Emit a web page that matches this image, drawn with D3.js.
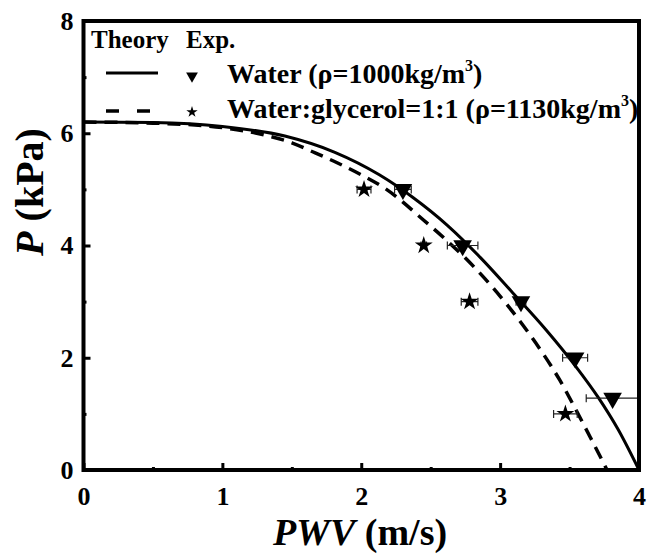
<!DOCTYPE html>
<html>
<head>
<meta charset="utf-8">
<script src="https://d3js.org/d3.v7.min.js"></script>
<style>
	body { margin: 0; background: #fff; }
</style>
</head>
<body>
<div id="chart"></div>
<script>
// Theory curves: PWV (m/s) vs pressure (kPa)
let waterTheoryV = [0, 0.5, 1.0, 1.45, 1.81, 2.13, 2.37, 2.62, 2.86, 3.09, 3.33, 3.54, 3.71, 3.85, 4.0];
let waterTheoryP = [6.2, 6.19, 6.12, 5.95, 5.66, 5.26, 4.86, 4.36, 3.78, 3.16, 2.5, 1.86, 1.28, 0.72, 0];

let glycTheoryV = [0, 0.5, 1.0, 1.3, 1.5, 1.65, 1.83, 2.0, 2.17, 2.45, 2.62, 2.78, 2.93, 3.17, 3.31, 3.43, 3.54, 3.65, 3.77];
let glycTheoryP = [6.2, 6.18, 6.1, 5.97, 5.83, 5.67, 5.47, 5.26, 5.02, 4.45, 4.08, 3.7, 3.3, 2.56, 2.07, 1.6, 1.1, 0.58, 0];

// Experimental points with horizontal error (m/s)
let waterExpV = [2.30, 2.73, 3.15, 3.54, 3.81];
let waterExpP = [5, 4, 3, 2, 1.28];
let waterExpErr = [0.06, 0.11, 0.035, 0.09, 0.19];

let glycExpV = [2.02, 2.45, 2.78, 3.47];
let glycExpP = [5, 4, 3, 1];
let glycExpErr = [0.05, 0.02, 0.06, 0.085];

// Axis ticks
let xTicks = [0, 1, 2, 3, 4];
let xMinorTicks = [0.5, 1.5, 2.5, 3.5];
let yTicks = [0, 2, 4, 6, 8];
let yMinorTicks = [1, 3, 5, 7];

let legendLabels = ['Water (\u03c1=1000kg/m', 'Water:glycerol=1:1 (\u03c1=1130kg/m'];

let width = 651;
let height = 556;
let plotLeft = 83.5, plotRight = 639, plotTop = 21, plotBottom = 470;
let serif = '"Liberation Serif", "Times New Roman", Tinos, serif';

let xScale = d3.scaleLinear().domain([0, 4]).range([plotLeft, plotRight]);
let yScale = d3.scaleLinear().domain([0, 8]).range([plotBottom, plotTop]);

let svg = d3.select('#chart')
		.append('svg')
		.attr('width', width)
		.attr('height', height)
		.style('font-family', serif)
		.style('font-weight', 'bold');

svg.append('clipPath').attr('id', 'plotClip')
		.append('rect')
		.attr('x', plotLeft).attr('y', plotTop)
		.attr('width', plotRight - plotLeft).attr('height', plotBottom - plotTop);

// Axes with inward ticks
function styleAxis(g) {
	g.attr('font-family', null).attr('font-size', null);
	g.select('.domain').remove();
	g.selectAll('.tick line').attr('stroke', '#000').attr('stroke-width', 3);
	g.selectAll('.tick text')
			.style('font-family', serif)
			.style('font-weight', 'bold')
			.style('font-size', '26px')
			.attr('fill', '#000');
}

svg.append('g')
		.attr('transform', 'translate(0,' + plotBottom + ')')
		.call(d3.axisBottom(xScale).tickValues(xTicks).tickFormat(d3.format('d'))
				.tickSizeInner(-7).tickSizeOuter(0).tickPadding(17))
		.call(styleAxis);

svg.append('g')
		.attr('transform', 'translate(0,' + plotBottom + ')')
		.call(d3.axisBottom(xScale).tickValues(xMinorTicks).tickFormat('')
				.tickSizeInner(-3).tickSizeOuter(0))
		.call(styleAxis);

svg.append('g')
		.attr('transform', 'translate(' + plotLeft + ',0)')
		.call(d3.axisLeft(yScale).tickValues(yTicks).tickFormat(d3.format('d'))
				.tickSizeInner(-7).tickSizeOuter(0).tickPadding(10))
		.call(styleAxis);

svg.append('g')
		.attr('transform', 'translate(' + plotLeft + ',0)')
		.call(d3.axisLeft(yScale).tickValues(yMinorTicks).tickFormat('')
				.tickSizeInner(-3).tickSizeOuter(0))
		.call(styleAxis);

// Theory curves
let line = d3.line()
		.x(d => xScale(d[0]))
		.y(d => yScale(d[1]))
		.curve(d3.curveMonotoneX);

let plot = svg.append('g').attr('clip-path', 'url(#plotClip)');

plot.append('path')
		.datum(d3.zip(waterTheoryV, waterTheoryP))
		.attr('d', line)
		.attr('fill', 'none')
		.attr('stroke', '#000')
		.attr('stroke-width', 3);

plot.append('path')
		.datum(d3.zip(glycTheoryV, glycTheoryP))
		.attr('d', line)
		.attr('fill', 'none')
		.attr('stroke', '#000')
		.attr('stroke-width', 3.5)
		.attr('stroke-dasharray', '13,8');

// Experimental points with error bars
function drawPoints(vs, ps, errs, symbolType, size, rotate) {
	let pts = d3.zip(vs, ps, errs);
	let g = plot.append('g');
	g.selectAll('.errbar')
			.data(pts).enter().append('path')
			.attr('d', d => {
				let x0 = xScale(d[0] - d[2]), x1 = xScale(d[0] + d[2]), y = yScale(d[1]);
				return 'M' + x0 + ',' + y + 'H' + x1 +
						'M' + x0 + ',' + (y - 4) + 'V' + (y + 4) +
						'M' + x1 + ',' + (y - 4) + 'V' + (y + 4);
			})
			.attr('fill', 'none')
			.attr('stroke', '#222')
			.attr('stroke-width', 1.2);
	g.selectAll('.pt')
			.data(pts).enter().append('path')
			.attr('d', d3.symbol().type(symbolType).size(size))
			.attr('transform', d => 'translate(' + xScale(d[0]) + ',' + yScale(d[1]) + ') rotate(' + rotate + ')')
			.attr('fill', '#000');
}

drawPoints(waterExpV, waterExpP, waterExpErr, d3.symbolTriangle, 150, 180);
drawPoints(glycExpV, glycExpP, glycExpErr, d3.symbolStar, 100, 0);

// Frame
svg.append('rect')
		.attr('x', plotLeft).attr('y', plotTop)
		.attr('width', plotRight - plotLeft).attr('height', plotBottom - plotTop)
		.attr('fill', 'none')
		.attr('stroke', '#000')
		.attr('stroke-width', 4);

// Legend
svg.append('text').attr('x', 91).attr('y', 48).style('font-size', '25px').text('Theory');
svg.append('text').attr('x', 186).attr('y', 48).style('font-size', '25px').text('Exp.');

let rowY = [73, 111];
let rowBase = [83, 118];
svg.append('line')
		.attr('x1', 106).attr('x2', 158).attr('y1', rowY[0]).attr('y2', rowY[0])
		.attr('stroke', '#000').attr('stroke-width', 3);
svg.append('line')
		.attr('x1', 106).attr('x2', 152).attr('y1', rowY[1]).attr('y2', rowY[1])
		.attr('stroke', '#000').attr('stroke-width', 3.5).attr('stroke-dasharray', '13,18');
svg.append('path')
		.attr('d', d3.symbol().type(d3.symbolTriangle).size(60))
		.attr('transform', 'translate(192,' + (rowY[0] + 3) + ') rotate(180)');
svg.append('path')
		.attr('d', d3.symbol().type(d3.symbolStar).size(40))
		.attr('transform', 'translate(192,' + (rowY[1] + 1) + ')');

legendLabels.forEach((label, i) => {
	let t = svg.append('text').attr('x', 227).attr('y', rowBase[i]).style('font-size', '28px');
	t.append('tspan').text(label);
	t.append('tspan').attr('dy', -12).style('font-size', '16px').text('3');
	t.append('tspan').attr('dy', 12).text(')');
});

// Axis titles
let xTitle = svg.append('text')
		.attr('x', 360).attr('y', 545)
		.attr('text-anchor', 'middle')
		.style('font-size', '38px');
xTitle.append('tspan').style('font-style', 'italic').text('PWV');
xTitle.append('tspan').text(' (m/s)');

let yTitle = svg.append('text')
		.attr('transform', 'translate(43,192) rotate(-90)')
		.attr('text-anchor', 'middle')
		.style('font-size', '40px');
yTitle.append('tspan').style('font-style', 'italic').text('P');
yTitle.append('tspan').text(' (kPa)');
</script>
</body>
</html>
